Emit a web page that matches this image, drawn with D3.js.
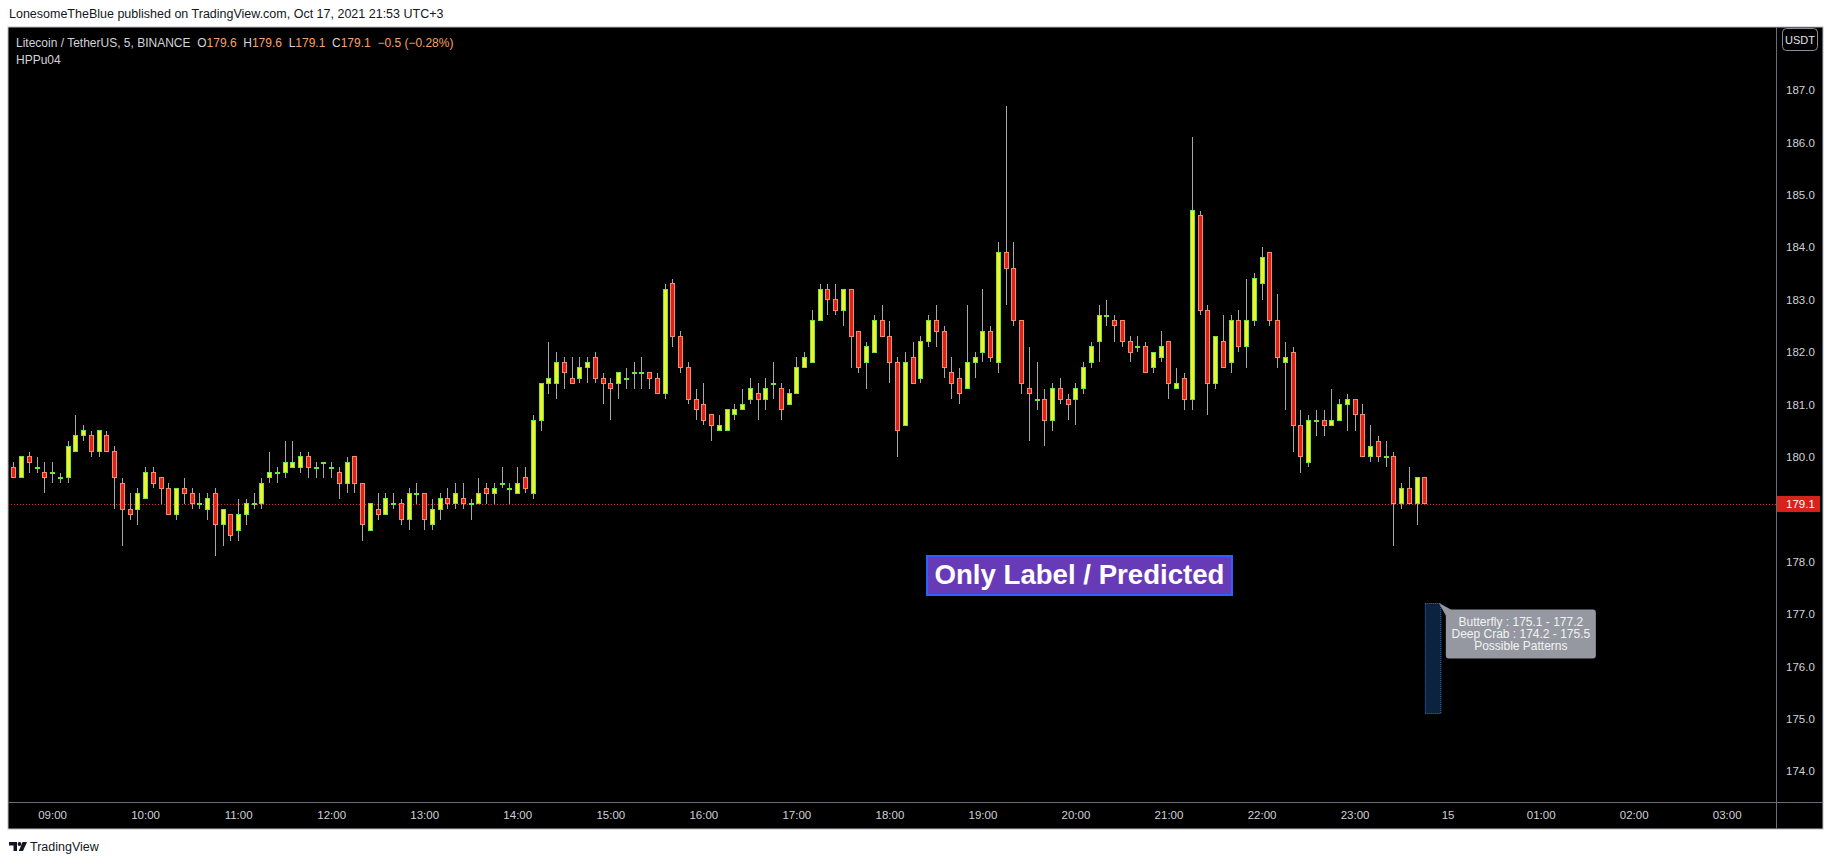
<!DOCTYPE html>
<meta charset="utf-8">
<style>
  body { margin: 0; background: #fff; }
  svg text { font-family: "Liberation Sans", Arial, sans-serif; }
</style>
<svg width="1834" height="865"></svg>
<script src="https://d3js.org/d3.v7.min.js"></script>
<script>

// LTC/USDT 5 min candles, Oct 14 2021, 08:35 .. 23:45
var startTime = "2021-10-14 08:35";
var endTime = "2021-10-15 03:30";

var opens = [179.8,179.6,180.0,179.8,179.7,179.7,179.6,179.6,180.1,180.4,180.4,180.1,180.4,180.1,179.5,179.0,179.0,179.2,179.7,179.6,
  179.4,178.9,179.4,179.3,179.1,179.0,179.3,178.7,178.9,178.6,178.9,179.1,179.1,179.6,179.7,179.7,179.8,179.8,180.0,179.8,
  179.9,179.8,179.7,179.5,180.0,179.5,178.6,179.0,178.9,179.1,179.1,178.8,179.3,179.3,178.7,179.0,179.2,179.1,179.2,179.1,
  179.1,179.4,179.3,179.5,179.4,179.3,179.6,179.3,180.7,181.4,181.4,181.8,181.5,181.5,181.7,181.9,181.5,181.4,181.4,181.5,
  181.6,181.6,181.6,181.5,181.2,183.3,182.3,181.7,181.1,181.0,180.8,180.5,180.5,180.8,180.9,181.1,181.2,181.1,181.4,181.3,
  181.0,181.2,181.7,181.8,182.6,183.2,183.0,182.8,183.2,182.4,181.8,182.0,182.6,182.3,181.8,180.6,181.9,181.5,182.2,182.6,
  182.4,181.6,181.5,181.3,181.8,182.0,182.4,181.8,183.9,183.6,182.6,181.3,181.1,181.1,180.7,181.3,181.1,181.1,181.3,181.8,
  182.2,182.7,182.6,182.6,182.2,182.1,182.1,181.7,181.9,182.2,181.3,181.5,181.1,184.6,182.8,181.4,182.2,181.8,182.6,182.1,
  182.6,183.3,183.9,182.6,181.8,182.0,180.6,179.9,180.7,180.7,180.6,180.7,181.0,181.1,180.8,180.0,180.3,180.0,180.0,179.1,
  179.4,179.1,179.6];
var highs = [179.9,180.0,180.1,180.0,179.9,179.9,179.7,180.3,180.8,180.6,180.5,180.5,180.5,180.2,179.6,179.3,179.4,179.8,179.8,179.6,
  179.5,179.4,179.6,179.4,179.3,179.3,179.4,179.0,178.9,179.2,179.2,179.3,179.6,180.1,179.8,180.3,180.3,180.1,180.1,179.9,
  179.9,179.9,179.8,180.0,180.0,179.5,179.1,179.3,179.3,179.3,179.2,179.4,179.5,179.3,179.2,179.3,179.4,179.5,179.5,179.2,
  179.6,179.5,179.5,179.8,179.5,179.8,179.8,180.8,181.4,182.2,182.0,181.9,181.9,181.9,181.9,182.0,181.6,181.5,181.6,181.7,
  181.8,181.9,181.6,181.6,183.3,183.4,182.4,181.8,181.3,181.4,180.8,180.8,180.9,181.0,181.3,181.5,181.4,181.5,181.8,181.4,
  181.3,181.9,182.0,182.8,183.3,183.3,183.3,183.2,183.2,182.4,182.2,182.7,182.9,182.6,181.9,182.0,182.2,182.3,182.7,182.9,
  182.5,181.9,181.7,182.9,182.0,183.2,182.5,184.1,186.7,184.1,182.6,182.1,181.8,181.3,181.4,181.5,181.2,181.4,181.8,182.2,
  182.9,183.0,182.7,182.6,182.3,182.3,182.2,182.0,182.4,182.2,181.7,181.6,186.1,184.7,182.9,182.3,182.7,182.7,182.8,183.4,
  183.5,184.0,183.9,183.1,182.2,182.1,180.9,180.8,180.9,180.9,181.3,181.1,181.2,181.1,181.0,180.6,180.4,180.3,180.1,179.5,
  179.8,179.6,179.6];
var lows = [179.6,179.6,179.7,179.7,179.3,179.5,179.5,179.5,180.1,180.3,180.0,180.0,180.1,179.0,178.3,178.8,178.7,179.2,179.4,179.1,
  178.9,178.8,179.1,179.0,179.0,178.8,178.1,178.3,178.4,178.4,178.7,179.0,179.0,179.5,179.5,179.6,179.8,179.7,179.6,179.6,
  179.6,179.6,179.2,179.3,179.3,178.4,178.6,178.8,178.9,179.0,178.7,178.6,179.1,178.6,178.6,178.8,179.0,179.0,179.0,178.8,
  179.1,179.1,179.1,179.4,179.1,179.3,179.3,179.2,180.5,181.2,181.1,181.3,181.4,181.4,181.4,181.4,181.0,180.7,181.1,181.3,
  181.3,181.3,181.3,181.2,181.1,182.1,181.6,181.0,180.7,180.6,180.3,180.5,180.5,180.7,180.9,181.0,180.7,180.9,181.1,180.7,
  181.0,181.2,181.7,181.8,182.6,182.7,182.7,182.5,181.7,181.6,181.3,182.0,182.3,181.4,180.0,180.6,181.4,181.4,182.1,182.1,
  181.5,181.1,181.0,181.3,181.5,181.8,181.8,181.6,182.9,182.5,181.2,180.3,180.9,180.2,180.5,181.0,180.7,180.6,181.2,181.7,
  181.8,182.5,182.2,182.1,181.8,182.0,181.6,181.6,181.8,181.1,181.3,180.9,180.9,182.7,180.8,181.3,181.7,181.6,182.0,181.7,
  182.5,183.0,182.5,181.7,180.9,180.1,179.7,179.8,180.4,180.4,180.6,180.7,180.5,180.5,180.0,179.9,179.9,179.8,178.3,179.0,
  179.1,178.7,179.1];
var closes = [179.6,180.0,179.9,179.8,179.6,179.7,179.6,180.2,180.4,180.5,180.1,180.5,180.1,179.6,179.0,178.9,179.3,179.7,179.5,179.4,
  178.9,179.4,179.3,179.1,179.1,179.2,178.7,179.0,178.5,178.9,179.1,179.1,179.5,179.7,179.7,179.9,179.9,180.0,179.8,179.8,
  179.9,179.8,179.5,179.9,179.5,178.7,179.1,178.9,179.2,179.1,178.8,179.3,179.3,178.8,179.0,179.2,179.1,179.3,179.1,179.1,
  179.3,179.3,179.4,179.5,179.4,179.5,179.4,180.7,181.4,181.5,181.8,181.6,181.4,181.7,181.8,181.5,181.4,181.3,181.6,181.5,
  181.6,181.6,181.5,181.2,183.2,182.3,181.7,181.1,180.9,180.7,180.6,180.6,180.9,180.9,181.0,181.3,181.1,181.3,181.4,180.9,
  181.2,181.7,181.9,182.6,183.2,183.0,182.8,183.2,182.3,181.7,182.1,182.6,182.3,181.8,180.5,181.8,181.4,182.2,182.6,182.4,
  181.7,181.4,181.2,181.8,181.9,182.4,181.9,183.9,183.6,182.6,181.4,181.2,181.1,180.7,181.3,181.1,181.0,181.3,181.7,182.1,
  182.7,182.7,182.5,182.2,182.0,182.1,181.6,182.0,182.1,181.4,181.4,181.1,184.7,182.8,181.4,182.3,181.7,182.6,182.1,182.6,
  183.4,183.8,182.6,181.9,181.9,180.6,180.0,180.7,180.7,180.6,180.7,181.0,181.1,180.8,180.0,180.2,180.0,180.0,179.1,179.4,
  179.1,179.6,179.1];

// 179.0 sits under the last price tag, so it is left out like on the original
var priceTicks = [174, 175, 176, 177, 178, 180, 181, 182, 183, 184, 185, 186, 187, 188];
var lastPrice = 179.1;

// projected pattern zone (time from/to, price from/to)
var zoneTimes = ["2021-10-14 23:45", "2021-10-14 23:55"];
var zonePrices = [175.1, 177.2];
var zoneLines = ["Butterfly : 175.1 - 177.2", "Deep Crab : 174.2 - 175.5", "Possible Patterns"];
var bannerText = "Only Label / Predicted";

var headerTitle = "Litecoin / TetherUS, 5, BINANCE";
var legendKeys = ["O", "H", "L", "C"];
var legendVals = ["179.6", "179.6", "179.1", "179.1"];
var legendChange = "\u22120.5 (\u22120.28%)";

var svg = d3.select("svg");
var parse = d3.timeParse("%Y-%m-%d %H:%M");
var t0 = parse(startTime);

var frame = { left: 8, top: 27, right: 1823, bottom: 829 },
    plotRight = 1776,
    plotBottom = 802;

var x = d3.scaleTime()
  .domain([t0, parse(endTime)])
  .range([13.3, 13.3 + 227 * 7.753]);

var y = d3.scaleLinear()
  .domain([174, 187])
  .range([771.2, 90]);

var candles = opens.map(function(o, i) {
  return { t: d3.timeMinute.offset(t0, 5 * i), o: o, h: highs[i], l: lows[i], c: closes[i] };
});

// top caption
svg.append("text")
  .attr("x", 9).attr("y", 18)
  .attr("font-size", 12.5).attr("fill", "#131722")
  .text("LonesomeTheBlue published on TradingView.com, Oct 17, 2021 21:53 UTC+3");

// chart background
svg.append("rect")
  .attr("x", frame.left).attr("y", frame.top)
  .attr("width", frame.right - frame.left).attr("height", frame.bottom - frame.top)
  .attr("fill", "#000").attr("stroke", "#b8bbc2");

svg.append("defs").append("clipPath").attr("id", "plot")
  .append("rect")
  .attr("x", frame.left).attr("y", frame.top)
  .attr("width", plotRight - frame.left).attr("height", plotBottom - frame.top);

var plot = svg.append("g").attr("clip-path", "url(#plot)");

// last price line
plot.append("line")
  .attr("x1", frame.left).attr("x2", plotRight)
  .attr("y1", Math.round(y(lastPrice)) + 0.5).attr("y2", Math.round(y(lastPrice)) + 0.5)
  .attr("stroke", "#e8281f").attr("stroke-dasharray", "1,2");

// candles
var cg = plot.selectAll(".candle")
  .data(candles)
  .enter().append("g")
  .attr("class", "candle")
  .attr("shape-rendering", "crispEdges");

cg.append("line")
  .attr("x1", function(d) { return Math.round(x(d.t)) + 0.5; })
  .attr("x2", function(d) { return Math.round(x(d.t)) + 0.5; })
  .attr("y1", function(d) { return y(d.h); })
  .attr("y2", function(d) { return y(d.l); })
  .attr("stroke", "#a8a8a8");

cg.append("rect")
  .attr("x", function(d) { return Math.round(x(d.t)) - 1.5; })
  .attr("width", 4)
  .attr("y", function(d) { return y(Math.max(d.o, d.c)); })
  .attr("height", function(d) { return Math.max(1, Math.abs(y(d.o) - y(d.c))); })
  .attr("fill", function(d) { return d.c >= d.o ? "#f7ef2e" : "#dc241c"; })
  .attr("stroke", function(d) { return d.c >= d.o ? "#6ee83a" : "#f58a67"; });

// pattern zone
var zx0 = x(parse(zoneTimes[0])), zx1 = x(parse(zoneTimes[1])),
    zy0 = y(zonePrices[1]), zy1 = y(zonePrices[0]);

plot.append("rect")
  .attr("x", zx0 + 1).attr("y", zy0)
  .attr("width", zx1 - zx0).attr("height", zy1 - zy0)
  .attr("fill", "#0c2340").attr("stroke", "#2a7fd4").attr("stroke-dasharray", "1,1");

// label with pointer
var lx = zx1 + 6, ly = zy0 + 6, lw = 150, lh = 49;
plot.append("path")
  .attr("d", "M" + (zx1 - 1) + "," + (zy0 - 0.5) + "L" + (lx + 5) + "," + ly + "L" + lx + "," + (ly + 6) + "Z")
  .attr("fill", "#9598a1");
plot.append("rect")
  .attr("x", lx).attr("y", ly).attr("width", lw).attr("height", lh).attr("rx", 3)
  .attr("fill", "#9598a1");
plot.selectAll(".zl")
  .data(zoneLines)
  .enter().append("text")
  .attr("class", "zl")
  .attr("x", lx + lw / 2)
  .attr("y", function(d, i) { return ly + 16.5 + i * 12; })
  .attr("text-anchor", "middle")
  .attr("font-size", 12)
  .attr("fill", "#f2f3f5")
  .text(function(d) { return d; });

// banner
var banner = plot.append("g");
banner.append("rect")
  .attr("x", 927).attr("y", 556).attr("width", 305).attr("height", 39)
  .attr("fill", "#673ab7").attr("stroke", "#2962ff").attr("stroke-width", 2);
var bt = banner.append("text")
  .attr("x", 1079.5).attr("y", 584)
  .attr("text-anchor", "middle")
  .attr("font-weight", "bold")
  .attr("font-size", 24)
  .attr("fill", "#fff")
  .text(bannerText);
var bw = bt.node().getComputedTextLength();
bt.attr("font-size", 24 * 290 / bw);

// legend at top-left
var legend = svg.append("text")
  .attr("x", 16).attr("y", 47)
  .attr("xml:space", "preserve")
  .style("white-space", "pre")
  .attr("font-size", 12).attr("fill", "#d1d4dc");
legend.append("tspan").text(headerTitle + "  ");
legendKeys.forEach(function(k, i) {
  legend.append("tspan").text(k);
  legend.append("tspan").attr("fill", "#f7a26a").text(legendVals[i] + "  ");
});
legend.append("tspan").attr("fill", "#f7a26a").text(legendChange);

svg.append("text")
  .attr("x", 16).attr("y", 64)
  .attr("font-size", 12).attr("fill", "#d1d4dc")
  .text("HPPu04");

// separators
svg.append("line")
  .attr("x1", plotRight + 0.5).attr("x2", plotRight + 0.5)
  .attr("y1", frame.top).attr("y2", frame.bottom)
  .attr("stroke", "#6a6d78");
svg.append("line")
  .attr("x1", frame.left).attr("x2", frame.right)
  .attr("y1", plotBottom + 0.5).attr("y2", plotBottom + 0.5)
  .attr("stroke", "#6a6d78");

// price axis
var yAxis = d3.axisRight(y)
  .tickValues(priceTicks)
  .tickSize(0)
  .tickPadding(10)
  .tickFormat(d3.format(".1f"));

var ya = svg.append("g")
  .attr("transform", "translate(" + plotRight + ",0)")
  .call(yAxis);
ya.select(".domain").remove();
ya.selectAll("text")
  .attr("font-family", "Liberation Sans, Arial, sans-serif")
  .attr("font-size", 11.5)
  .attr("fill", "#cfd2d8");

// last price tag
svg.append("rect")
  .attr("x", plotRight + 1).attr("y", y(lastPrice) - 8)
  .attr("width", 43).attr("height", 16)
  .attr("fill", "#d6231c");
svg.append("text")
  .attr("x", plotRight + 10).attr("y", y(lastPrice) + 4)
  .attr("font-size", 11.5).attr("fill", "#fff")
  .text(d3.format(".1f")(lastPrice));

// currency box
svg.append("rect")
  .attr("x", 1782.5).attr("y", 28.5).attr("width", 35).attr("height", 22).attr("rx", 4)
  .attr("fill", "#000").attr("stroke", "#8a8d96");
svg.append("text")
  .attr("x", 1800).attr("y", 43.5)
  .attr("text-anchor", "middle")
  .attr("font-size", 11).attr("fill", "#e0e3eb")
  .text("USDT");

// time axis
var fmtHour = d3.timeFormat("%H:%M"), fmtDay = d3.timeFormat("%d");
var xAxis = d3.axisBottom(x)
  .ticks(d3.timeHour.every(1))
  .tickSize(0)
  .tickPadding(9)
  .tickFormat(function(d) { return d.getHours() === 0 ? fmtDay(d) : fmtHour(d); });

var xa = svg.append("g")
  .attr("transform", "translate(0," + plotBottom + ")")
  .call(xAxis);
xa.select(".domain").remove();
xa.selectAll("text")
  .attr("font-family", "Liberation Sans, Arial, sans-serif")
  .attr("font-size", 11.5)
  .attr("fill", "#cfd2d8");

// footer logo
var logo = svg.append("g").attr("fill", "#131722");
logo.append("path").attr("d", "M9,842h8v9h-3.5v-5.5h-4.5z");
logo.append("circle").attr("cx", 19.5).attr("cy", 844).attr("r", 1.9);
logo.append("path").attr("d", "M22.5,842h4.5l-4,9h-4.2z");
svg.append("text")
  .attr("x", 30).attr("y", 851)
  .attr("font-size", 12.5).attr("fill", "#131722")
  .text("TradingView");

</script>
